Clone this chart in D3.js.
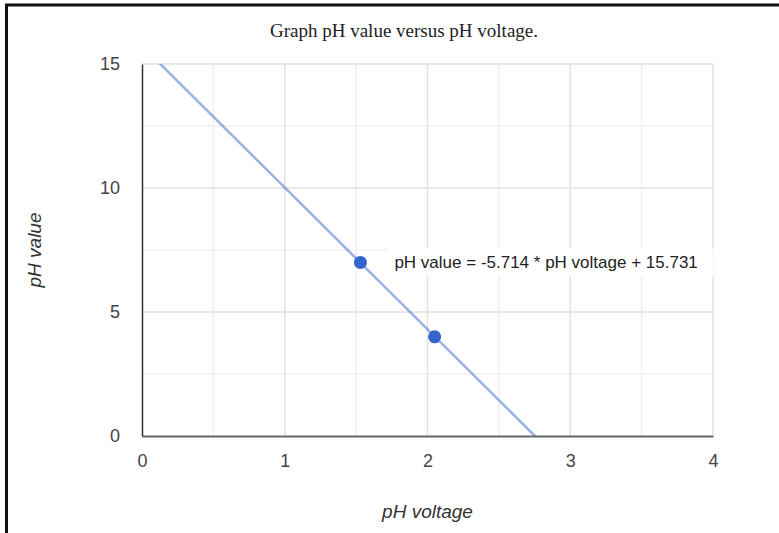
<!DOCTYPE html>
<html>
<head>
<meta charset="utf-8">
<script src="https://cdn.jsdelivr.net/npm/d3@7"></script>
<style>
  body { margin: 0; background: #fff; }
  svg { display: block; }
</style>
</head>
<body>
<div id="chart"></div>
<script>
// readings
const voltages = [1.53, 2.05]
const phValues = [7, 4]
const slope = -5.714
const intercept = 15.731
const xTicks = [0, 1, 2, 3, 4]
const yTicks = [0, 5, 10, 15]
const xMinor = [0.5, 1.5, 2.5, 3.5]
const yMinor = [2.5, 7.5, 12.5]

const width = 779
const height = 533
const margin = {left: 142, right: 66, top: 64, bottom: 97}
const blue = '#3366cc'
const sans = 'Arial, "Liberation Sans", sans-serif'

const svg = d3.select('#chart')
  .append('svg')
  .attr('width', width)
  .attr('height', height)

const x = d3.scaleLinear().domain([0, 4]).range([margin.left, width - margin.right])
const y = d3.scaleLinear().domain([0, 15]).range([height - margin.bottom, margin.top])

// frame lines (top + left only)
svg.append('line')
  .attr('x1', 5).attr('x2', width).attr('y1', 5).attr('y2', 5)
  .attr('stroke', '#111').attr('stroke-width', 3)
svg.append('line')
  .attr('x1', 6.5).attr('x2', 6.5).attr('y1', 4).attr('y2', height)
  .attr('stroke', '#111').attr('stroke-width', 3)

// title
svg.append('text')
  .attr('x', 404)
  .attr('y', 37)
  .attr('text-anchor', 'middle')
  .attr('font-family', '"Liberation Serif", "Times New Roman", serif')
  .attr('font-size', 19)
  .attr('fill', '#222')
  .text('Graph pH value versus pH voltage.')

// grid
const grid = svg.append('g')
grid.selectAll('.vminor').data(xMinor).enter().append('line')
  .attr('x1', d => x(d)).attr('x2', d => x(d))
  .attr('y1', y(15)).attr('y2', y(0))
  .attr('stroke', '#efefef').attr('stroke-width', 1.5)
grid.selectAll('.hminor').data(yMinor).enter().append('line')
  .attr('x1', x(0)).attr('x2', x(4))
  .attr('y1', d => y(d)).attr('y2', d => y(d))
  .attr('stroke', '#efefef').attr('stroke-width', 1.5)
grid.selectAll('.vmajor').data(xTicks.slice(1)).enter().append('line')
  .attr('x1', d => x(d)).attr('x2', d => x(d))
  .attr('y1', y(15)).attr('y2', y(0))
  .attr('stroke', '#e2e2e2').attr('stroke-width', 1.5)
grid.selectAll('.hmajor').data(yTicks.slice(1)).enter().append('line')
  .attr('x1', x(0)).attr('x2', x(4))
  .attr('y1', d => y(d)).attr('y2', d => y(d))
  .attr('stroke', '#e2e2e2').attr('stroke-width', 1.5)

// trendline, clipped to plot
svg.append('clipPath').attr('id', 'plot-clip')
  .append('rect')
  .attr('x', x(0)).attr('y', y(15))
  .attr('width', x(4) - x(0)).attr('height', y(0) - y(15))

const v0 = 0
const v1 = 4
svg.append('line')
  .attr('clip-path', 'url(#plot-clip)')
  .attr('x1', x(v0)).attr('y1', y(slope * v0 + intercept))
  .attr('x2', x(v1)).attr('y2', y(slope * v1 + intercept))
  .attr('stroke', blue)
  .attr('stroke-opacity', 0.5)
  .attr('stroke-width', 2.5)

// axes
const xAxis = svg.append('g')
  .attr('transform', `translate(0,${y(0)})`)
  .call(d3.axisBottom(x).tickValues(xTicks).tickSize(0).tickPadding(18).tickFormat(d3.format('d')))
xAxis.select('.domain').attr('stroke', '#666').attr('stroke-width', 2)

const yAxis = svg.append('g')
  .attr('transform', `translate(${x(0)},0)`)
  .call(d3.axisLeft(y).tickValues(yTicks).tickSize(0).tickPadding(22).tickFormat(d3.format('d')))
yAxis.select('.domain').attr('stroke', '#333').attr('stroke-width', 1.5)

svg.selectAll('.tick text')
  .attr('font-family', sans)
  .attr('font-size', 18)
  .attr('fill', '#444')

// axis titles
svg.append('text')
  .attr('x', x(2))
  .attr('y', 518)
  .attr('text-anchor', 'middle')
  .attr('font-family', sans)
  .attr('font-style', 'italic')
  .attr('font-size', 19)
  .attr('fill', '#333')
  .text('pH voltage')

svg.append('text')
  .attr('transform', `translate(41,${y(7.5)}) rotate(-90)`)
  .attr('text-anchor', 'middle')
  .attr('font-family', sans)
  .attr('font-style', 'italic')
  .attr('font-size', 19)
  .attr('fill', '#333')
  .text('pH value')

// points
const pts = voltages.map((v, i) => ({v: v, ph: phValues[i]}))
svg.selectAll('.pt').data(pts).enter().append('circle')
  .attr('cx', d => x(d.v))
  .attr('cy', d => y(d.ph))
  .attr('r', 6.5)
  .attr('fill', blue)

// trendline label
const label = svg.append('g')
  .attr('transform', `translate(${x(voltages[0]) + 27},${y(phValues[0])})`)
label.append('rect')
  .attr('x', 0).attr('y', -14)
  .attr('width', 326).attr('height', 28)
  .attr('fill', '#fff')
label.append('text')
  .attr('x', 7)
  .attr('y', 6)
  .attr('font-family', sans)
  .attr('font-size', 17)
  .attr('fill', '#222')
  .text(`pH value = ${slope} * pH voltage + ${intercept}`)
</script>
</body>
</html>
